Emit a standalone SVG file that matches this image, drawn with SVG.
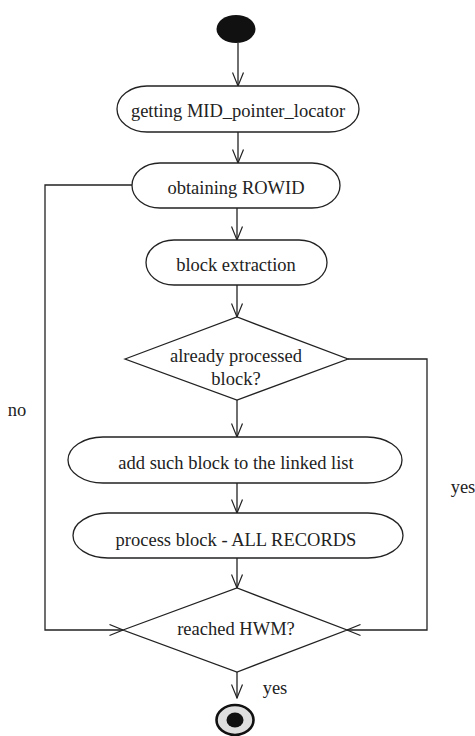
<svg xmlns="http://www.w3.org/2000/svg" width="475" height="736" viewBox="0 0 475 736">
  <defs>
    <marker id="arrow" viewBox="0 0 15 13" refX="14" refY="6.5" markerWidth="15" markerHeight="13" markerUnits="userSpaceOnUse" orient="auto">
      <path d="M0.5,1 L14,6.5 L0.5,12" fill="none" stroke="#222" stroke-width="1.2"/>
    </marker>
  </defs>
  <style>
    .shape { fill: #fff; stroke: #222; stroke-width: 1.3; }
    .edge { fill: none; stroke: #222; stroke-width: 1.3; marker-end: url(#arrow); }
    .label { font-family: 'Liberation Serif', 'Times New Roman', Times, serif; font-size: 18.5px; fill: #222; text-anchor: middle; }
  </style>
  <rect width="475" height="736" fill="#fff"/>

  <!-- connectors -->
  <g id="connectors">
    <path class="edge" d="M238,43 L238,86"/>
    <path class="edge" d="M238,132 L238,163"/>
    <path class="edge" d="M237,208 L237,240"/>
    <path class="edge" d="M237,285 L237,317"/>
    <path class="edge" d="M237,400 L237,437"/>
    <path class="edge" d="M237,483 L237,513"/>
    <path class="edge" d="M237,558 L237,588"/>
    <path class="edge" d="M237,672 L237,698"/>
    <!-- "no" loop back from obtaining ROWID -->
    <path class="edge" d="M132,185 L45,185 L45,630 L123,630"/>
    <!-- "yes" branch from already processed block? -->
    <path class="edge" d="M348,359 L427,359 L427,630 L347,630"/>
    <text class="label" x="17" y="416">no</text>
    <text class="label" x="463" y="493">yes</text>
    <text class="label" x="275" y="694">yes</text>
  </g>

  <g id="start">
    <ellipse cx="236" cy="29" rx="19.5" ry="14" fill="#111"/>
  </g>

  <g id="get-mid">
    <rect class="shape" x="117" y="86" width="242" height="46" rx="30" ry="23"/>
    <text class="label" x="238" y="117">getting  MID_pointer_locator</text>
  </g>

  <g id="obtain-rowid">
    <rect class="shape" x="132" y="163" width="208" height="45" rx="28" ry="22.5"/>
    <text class="label" x="236" y="194">obtaining  ROWID</text>
  </g>

  <g id="block-extraction">
    <rect class="shape" x="146" y="240" width="181" height="45" rx="28" ry="22.5"/>
    <text class="label" x="236" y="271">block  extraction</text>
  </g>

  <g id="already-processed">
    <polygon class="shape" points="125,359 237,317 348,359 237,400"/>
    <text class="label" x="236" y="362">already  processed</text>
    <text class="label" x="236" y="385">block?</text>
  </g>

  <g id="add-block">
    <rect class="shape" x="68" y="437" width="334" height="46" rx="35" ry="23"/>
    <text class="label" x="236" y="469">add such block  to the linked  list</text>
  </g>

  <g id="process-block">
    <rect class="shape" x="73" y="513" width="330" height="45" rx="35" ry="22.5"/>
    <text class="label" x="236" y="546">process block  - ALL RECORDS</text>
  </g>

  <g id="reached-hwm">
    <polygon class="shape" points="123,630 237,588 347,630 237,672"/>
    <text class="label" x="236" y="635">reached  HWM?</text>
  </g>

  <g id="end">
    <ellipse cx="235" cy="720" rx="18.5" ry="15" fill="#dedede" stroke="#111" stroke-width="2.6"/>
    <ellipse cx="235" cy="720" rx="8.5" ry="7.5" fill="#111"/>
  </g>
</svg>
